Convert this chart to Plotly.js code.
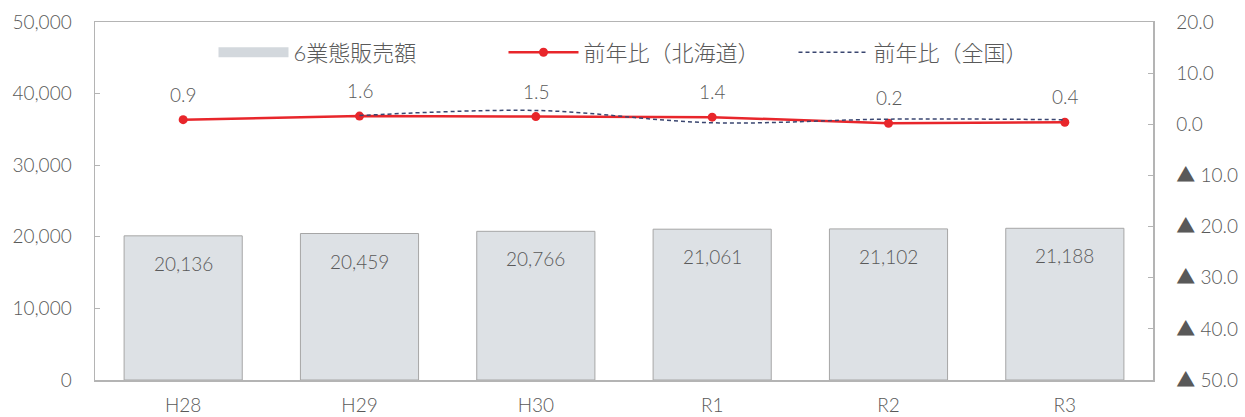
<!DOCTYPE html>
<html>
<head>
<meta charset="utf-8">
<script src="https://cdn.plot.ly/plotly-3.0.1.min.js"></script>
<style>html,body{margin:0;padding:0;background:#fff;}#chart{width:1245px;height:417px;}</style>
</head>
<body>
<div id="chart"></div>
<script>
const categories = ["H28", "H29", "H30", "R1", "R2", "R3"];
const sales = [20136, 20459, 20766, 21061, 21102, 21188];
const yoyHokkaido = [0.9, 1.6, 1.5, 1.4, 0.2, 0.4];
const yoyNational = [null, 1.7, 2.7, 0.3, 1.0, 0.9];
const rightTickVals = [20, 10, 0, -10, -20, -30, -40, -50];
const leftTickVals = [0, 10000, 20000, 30000, 40000, 50000];

const FONT = "Lato, 'Noto Sans CJK JP', sans-serif";
const GREY = "#595959";
const AXIS = "#b4b4b4";
const W = 300;

const rightTickText = rightTickVals.map(v => v < 0 ? "▲ " + Math.abs(v).toFixed(1) : v.toFixed(1));

const traces = [
  {
    type: "bar", name: "6業態販売額", x: categories, y: sales,
    marker: {color: "#dde1e5", line: {color: "#a6a6a6", width: 1}},
    showlegend: false, hoverinfo: "skip"
  },
  {
    // legend-only entry giving the wide swatch used for the bar series
    type: "scatter", mode: "lines", name: "6業態販売額",
    x: [null], y: [null],
    line: {color: "#d3d8dd", width: 13}
  },
  {
    type: "scatter", mode: "lines+markers", name: "前年比（北海道）",
    x: categories, y: yoyHokkaido, yaxis: "y2",
    line: {color: "#e8262b", width: 2.5},
    marker: {color: "#e8262b", size: 9}
  },
  {
    type: "scatter", mode: "lines", name: "前年比（全国）",
    x: categories, y: yoyNational, yaxis: "y2",
    line: {color: "#3a4670", width: 1.5, dash: "4px,3px", shape: "spline"}
  }
];

const annotations = [];
categories.forEach((c, i) => {
  annotations.push({
    x: c, y: sales[i], xref: "x", yref: "y", yanchor: "top", yshift: -14,
    text: sales[i].toLocaleString("en-US"), showarrow: false,
    font: {family: FONT, size: 19, color: GREY, weight: W}
  });
  annotations.push({
    x: c, y: yoyHokkaido[i], xref: "x", yref: "y2", yanchor: "bottom", yshift: 12,
    text: yoyHokkaido[i].toFixed(1), showarrow: false,
    font: {family: FONT, size: 19, color: GREY, weight: W}
  });
});

const layout = {
  width: 1245, height: 417,
  margin: {l: 95, r: 92, t: 22, b: 37},
  paper_bgcolor: "#fff", plot_bgcolor: "#fff",
  font: {family: FONT, size: 19, color: GREY, weight: W},
  bargap: 0.33,
  showlegend: true,
  legend: {
    orientation: "h", x: 0.112, xanchor: "left", y: 0.915, yanchor: "middle",
    font: {family: FONT, size: 22, color: GREY, weight: W}, itemwidth: 70,
    entrywidth: 205, entrywidthmode: "pixels",
    bgcolor: "rgba(0,0,0,0)"
  },
  xaxis: {
    showline: true, linecolor: AXIS, linewidth: 1.5, mirror: true,
    ticks: "", showgrid: false, zeroline: false,
    tickfont: {family: FONT, size: 19, color: GREY, weight: W}, ticklabelstandoff: 8
  },
  yaxis: {
    range: [0, 50000], tickvals: leftTickVals, tickformat: ",d",
    showline: true, linecolor: AXIS, linewidth: 1.5,
    ticks: "inside", ticklen: 5, tickcolor: AXIS, showgrid: false, zeroline: false,
    tickfont: {family: FONT, size: 19, color: GREY, weight: W}, ticklabelstandoff: 18
  },
  yaxis2: {
    overlaying: "y", side: "right", range: [-50, 20],
    tickvals: rightTickVals, ticktext: rightTickText,
    showline: true, linecolor: AXIS, linewidth: 1.5,
    ticks: "inside", ticklen: 5, tickcolor: AXIS, showgrid: false, zeroline: false,
    tickfont: {family: FONT, size: 19, color: GREY, weight: W}, ticklabelstandoff: 18
  },
  annotations: annotations
};

Plotly.newPlot("chart", traces, layout, {displayModeBar: false, staticPlot: true});
</script>
</body>
</html>
